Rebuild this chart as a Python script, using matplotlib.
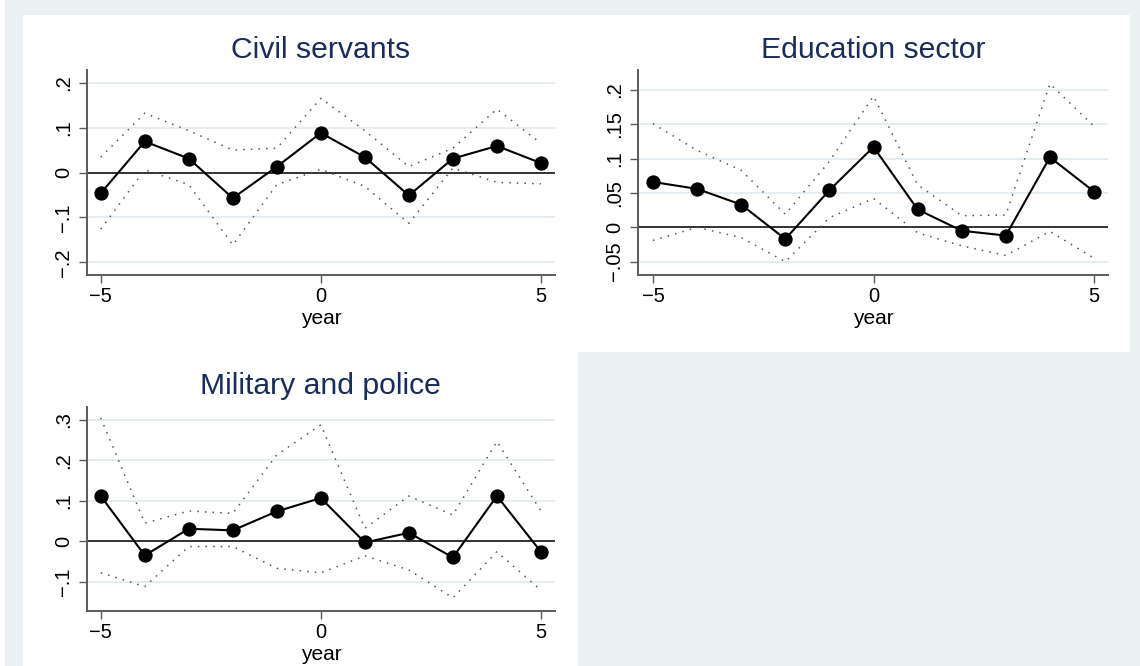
import matplotlib
matplotlib.use('Agg')
import matplotlib.pyplot as plt
from matplotlib.patches import Rectangle
import matplotlib.transforms as mtrans

plt.rcParams['font.family'] = ['Liberation Sans', 'DejaVu Sans']

# ---------------- data ----------------
years = [-5, -4, -3, -2, -1, 0, 1, 2, 3, 4, 5]

titles = ["Civil servants", "Education sector", "Military and police"]

civil_coef = [-0.046, 0.069, 0.031, -0.057, 0.013, 0.088, 0.034, -0.051, 0.031, 0.059, 0.021]
civil_hi = [0.034, 0.132, 0.093, 0.050, 0.054, 0.165, 0.093, 0.013, 0.054, 0.141, 0.065]
civil_lo = [-0.126, 0.006, -0.027, -0.161, -0.027, 0.007, -0.031, -0.113, 0.010, -0.022, -0.025]

educ_coef = [0.066, 0.056, 0.033, -0.017, 0.054, 0.117, 0.026, -0.005, -0.012, 0.102, 0.052]
educ_hi = [0.151, 0.112, 0.083, 0.019, 0.096, 0.191, 0.062, 0.017, 0.018, 0.209, 0.147]
educ_lo = [-0.019, 0.000, -0.015, -0.050, 0.014, 0.042, -0.008, -0.027, -0.041, -0.006, -0.045]

mil_coef = [0.112, -0.035, 0.031, 0.027, 0.074, 0.107, -0.003, 0.021, -0.040, 0.112, -0.026]
mil_hi = [0.305, 0.045, 0.075, 0.069, 0.214, 0.288, 0.032, 0.112, 0.065, 0.247, 0.075]
mil_lo = [-0.078, -0.112, -0.013, -0.013, -0.067, -0.078, -0.036, -0.071, -0.140, -0.026, -0.121]

x_ticks = [-5, 0, 5]
x_ticklabels = ["\u22125", "0", "5"]

civil_yticks = [-0.2, -0.1, 0.0, 0.1, 0.2]
civil_yticklabels = ["\u2212.2", "\u2212.1", "0", ".1", ".2"]
educ_yticks = [-0.05, 0.0, 0.05, 0.1, 0.15, 0.2]
educ_yticklabels = ["\u2212.05", "0", ".05", ".1", ".15", ".2"]
mil_yticks = [-0.1, 0.0, 0.1, 0.2, 0.3]
mil_yticklabels = ["\u2212.1", "0", ".1", ".2", ".3"]

# ---------------- layout (pixels) ----------------
W, H = 1140, 666
fig = plt.figure(figsize=(W / 100, H / 100), dpi=100, facecolor='#e9f1f3')


def add_rect(x0, y0, x1, y1, color):
    fig.add_artist(Rectangle((x0 / W, 1 - y1 / H), (x1 - x0) / W, (y1 - y0) / H,
                             transform=fig.transFigure, facecolor=color,
                             edgecolor='none', zorder=0))


add_rect(0, 0, 5, H, 'white')
add_rect(23, 15, 1130, 352, 'white')
add_rect(23, 352, 578, H, 'white')


def ax_box(x0, y0, x1, y1):
    return [x0 / W, 1 - y1 / H, (x1 - x0) / W, (y1 - y0) / H]


panels = [
    (ax_box(86.7, 70, 555, 275), civil_coef, civil_hi, civil_lo,
     civil_yticks, civil_yticklabels, (-0.228, 0.228), (-5.32, 5.32)),
    (ax_box(638, 70, 1107.7, 275), educ_coef, educ_hi, educ_lo,
     educ_yticks, educ_yticklabels, (-0.0694, 0.229), (-5.34, 5.31)),
    (ax_box(86.7, 406.7, 555, 611), mil_coef, mil_hi, mil_lo,
     mil_yticks, mil_yticklabels, (-0.1725, 0.333), (-5.32, 5.32)),
]

title_color = '#1a2c5b'
spine_color = '#5a5a5a'

for (box, coef, hi, lo, yt, ytl, ylim, xlim), title in zip(panels, titles):
    ax = fig.add_axes(box)
    ax.set_facecolor('white')
    ax.set_xlim(*xlim)
    ax.set_ylim(*ylim)
    ax.set_yticks(yt)
    ax.set_yticklabels(ytl)
    ax.set_xticks(x_ticks)
    ax.set_xticklabels(x_ticklabels)
    ax.grid(axis='y', color='#e4ecef', lw=1.3, zorder=0)
    ax.set_axisbelow(True)
    for s in ['top', 'right']:
        ax.spines[s].set_visible(False)
    for s in ['left', 'bottom']:
        ax.spines[s].set_color(spine_color)
        ax.spines[s].set_linewidth(1.4)
    ax.tick_params(axis='both', direction='out', length=5.5, width=1.0,
                   color=spine_color, labelsize=14.5, labelcolor='black')
    ax.tick_params(axis='x', pad=3)
    ax.tick_params(axis='y', pad=4.5, labelrotation=90)
    for lab in ax.get_yticklabels():
        lab.set_va('center')

    ax.axhline(0, color='black', lw=1.1, zorder=2)
    ax.plot(years, hi, color='#555555', lw=1.1, ls=(0, (1, 4)), zorder=3)
    ax.plot(years, lo, color='#555555', lw=1.1, ls=(0, (1, 4)), zorder=3)
    ax.plot(years, coef, color='black', lw=1.5, marker='o', markersize=9.3,
            markerfacecolor='black', markeredgecolor='black', zorder=4)

    ax.set_xlabel('year', fontsize=15, labelpad=2)
    tr = mtrans.offset_copy(ax.transAxes, fig=fig, y=12.5 * 0.72, units='points')
    ax.text(0.5, 1.0, title, transform=tr, ha='center', va='baseline',
            fontsize=21.7, color=title_color)

fig.savefig('out.png', dpi=100, facecolor=fig.get_facecolor())
